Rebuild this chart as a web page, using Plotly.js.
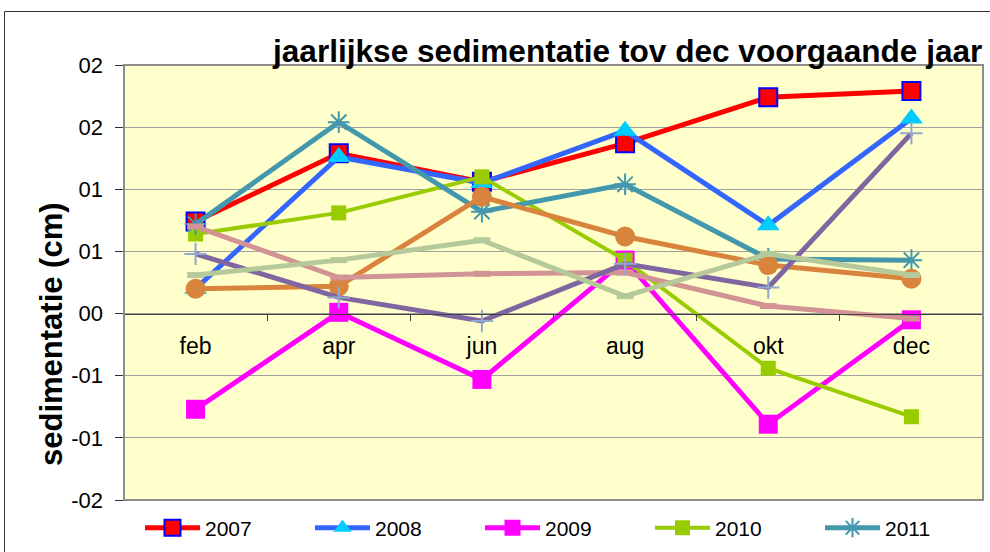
<!DOCTYPE html>
<html>
<head>
<meta charset="utf-8">
<script src="https://cdn.plot.ly/plotly-3.0.1.min.js"></script>
<style>
  html, body { margin: 0; padding: 0; background: #ffffff; }
  #chart { width: 990px; height: 552px; }
</style>
</head>
<body>
<div id="chart"></div>
<script>
// ---- data ----
const months = ['feb', 'apr', 'jun', 'aug', 'okt', 'dec'];
const y2007 = [0.074, 0.129, 0.106, 0.137, 0.174, 0.179];
const y2008 = [0.020, 0.126, 0.105, 0.147, 0.071, 0.157];
const y2009 = [-0.077, 0.001, -0.053, 0.043, -0.089, -0.005];
const y2010 = [0.064, 0.081, 0.110, 0.043, -0.044, -0.083];
const y2011 = [0.072, 0.154, 0.082, 0.104, 0.044, 0.043];
const y2012 = [0.020, 0.022, 0.094, 0.062, 0.039, 0.028];
const y2013 = [0.070, 0.029, 0.032, 0.033, 0.006, -0.004];
const y2014 = [0.048, 0.013, -0.006, 0.040, 0.021, 0.145];
const y2015 = [0.031, 0.043, 0.059, 0.014, 0.048, 0.031];
const yTickVals = [-0.15, -0.10, -0.05, 0, 0.05, 0.10, 0.15, 0.20];
const yTickText = ['-02', '-01', '-01', '00', '01', '01', '02', '02'];

const FONT = 'Liberation Sans, Arial, sans-serif';

function tr(name, y, lineColor, marker, show, width) {
  return {
    type: 'scatter', mode: 'lines+markers', name: name,
    x: months, y: y,
    line: { color: lineColor, width: width || 5 },
    marker: marker,
    showlegend: show
  };
}

const traces = [
  tr('2007', y2007, '#FF0000', { symbol: 'square', size: 18, color: '#FF0000', line: { color: '#0000FF', width: 2 } }, true),
  tr('2008', y2008, '#3366FF', { symbol: 'triangle-up', size: 20, color: '#00CCFF', line: { width: 0 } }, true),
  tr('2009', y2009, '#FF00FF', { symbol: 'square', size: 19, color: '#FF00FF', line: { width: 0 } }, true),
  tr('2010', y2010, '#99CC00', { symbol: 'square', size: 15, color: '#99CC00', line: { width: 0 } }, true, 4),
  tr('2011', y2011, '#4398AE', { symbol: 'asterisk-open', size: 18, color: '#4398AE', line: { color: '#4398AE', width: 2 } }, true),
  tr('2012', y2012, '#D9843C', { symbol: 'circle', size: 20, color: '#D9843C', line: { width: 0 } }, false),
  tr('2013', y2013, '#D19393', { symbol: 'line-ew-open', size: 12, color: '#D19393', line: { color: '#D19393', width: 6 } }, false),
  tr('2014', y2014, '#8066A1', { symbol: 'cross-thin-open', size: 16, color: '#93A9CF', line: { color: '#93A9CF', width: 2 } }, false),
  tr('2015', y2015, '#B5C99A', { symbol: 'line-ew-open', size: 12, color: '#B5C99A', line: { color: '#B5C99A', width: 6 } }, false)
];

const zeroPos = 0.15 / 0.35;

const layout = {
  width: 990, height: 552,
  margin: { l: 124, r: 7, t: 65, b: 52, pad: 0, autoexpand: false },
  paper_bgcolor: '#FFFFFF',
  plot_bgcolor: '#FFFFCC',
  font: { family: FONT, color: '#000000', size: 20 },
  title: {
    text: '<b>jaarlijkse sedimentatie tov dec voorgaande jaar</b>',
    font: { family: FONT, size: 31.6, color: '#000000' },
    xref: 'container', yref: 'container',
    x: 273 / 990, xanchor: 'left',
    y: 1 - 51 / 552, yanchor: 'middle'
  },
  xaxis: {
    type: 'category',
    range: [-0.5, 5.5],
    anchor: 'free', position: zeroPos,
    showline: true, linecolor: '#404040', linewidth: 1,
    ticks: 'outside', tickson: 'boundaries', ticklen: 6, tickcolor: '#404040', tickwidth: 1,
    showgrid: false, zeroline: false,
    tickfont: { family: FONT, size: 23, color: '#000000' },
    ticklabelstandoff: 12,
    fixedrange: true
  },
  yaxis: {
    range: [-0.15, 0.20],
    tickvals: yTickVals, ticktext: yTickText,
    showline: true, linecolor: '#303030', linewidth: 1.5,
    ticks: 'outside', ticklen: 8, tickcolor: '#303030', tickwidth: 1,
    showgrid: true, gridcolor: '#A0A0A0', gridwidth: 1,
    zeroline: false,
    tickfont: { family: FONT, size: 22, color: '#000000' },
    ticklabelstandoff: 7,
    fixedrange: true
  },
  annotations: [{
    text: '<b>sedimentatie (cm)</b>',
    textangle: -90,
    xref: 'paper', yref: 'paper',
    x: (51 - 124) / 859, y: (500 - 334) / 435,
    xanchor: 'center', yanchor: 'middle',
    showarrow: false,
    font: { family: FONT, size: 31, color: '#000000' }
  }],
  shapes: [
    { type: 'rect', xref: 'paper', yref: 'paper', x0: 0, y0: 0, x1: 1, y1: 1,
      line: { color: '#8C8C8C', width: 2 }, layer: 'above' },
    { type: 'line', xref: 'paper', yref: 'paper',
      x0: (4.5 - 124) / 859, x1: 1.2, y0: (500 - 11.5) / 435, y1: (500 - 11.5) / 435,
      line: { color: '#333333', width: 1 } },
    { type: 'line', xref: 'paper', yref: 'paper',
      x0: (4.5 - 124) / 859, x1: (4.5 - 124) / 859, y0: -0.2, y1: (500 - 11.5) / 435,
      line: { color: '#333333', width: 1 } }
  ],
  legend: {
    orientation: 'h',
    x: (140 - 124) / 859, xanchor: 'left',
    y: (500 - 528) / 435, yanchor: 'middle',
    font: { family: FONT, size: 21, color: '#000000' },
    itemwidth: 55,
    entrywidth: 100, entrywidthmode: 'pixels',
    bgcolor: 'rgba(0,0,0,0)',
    traceorder: 'normal'
  },
  showlegend: true
};

Plotly.newPlot('chart', traces, layout, { displayModeBar: false, staticPlot: true });
</script>
</body>
</html>
